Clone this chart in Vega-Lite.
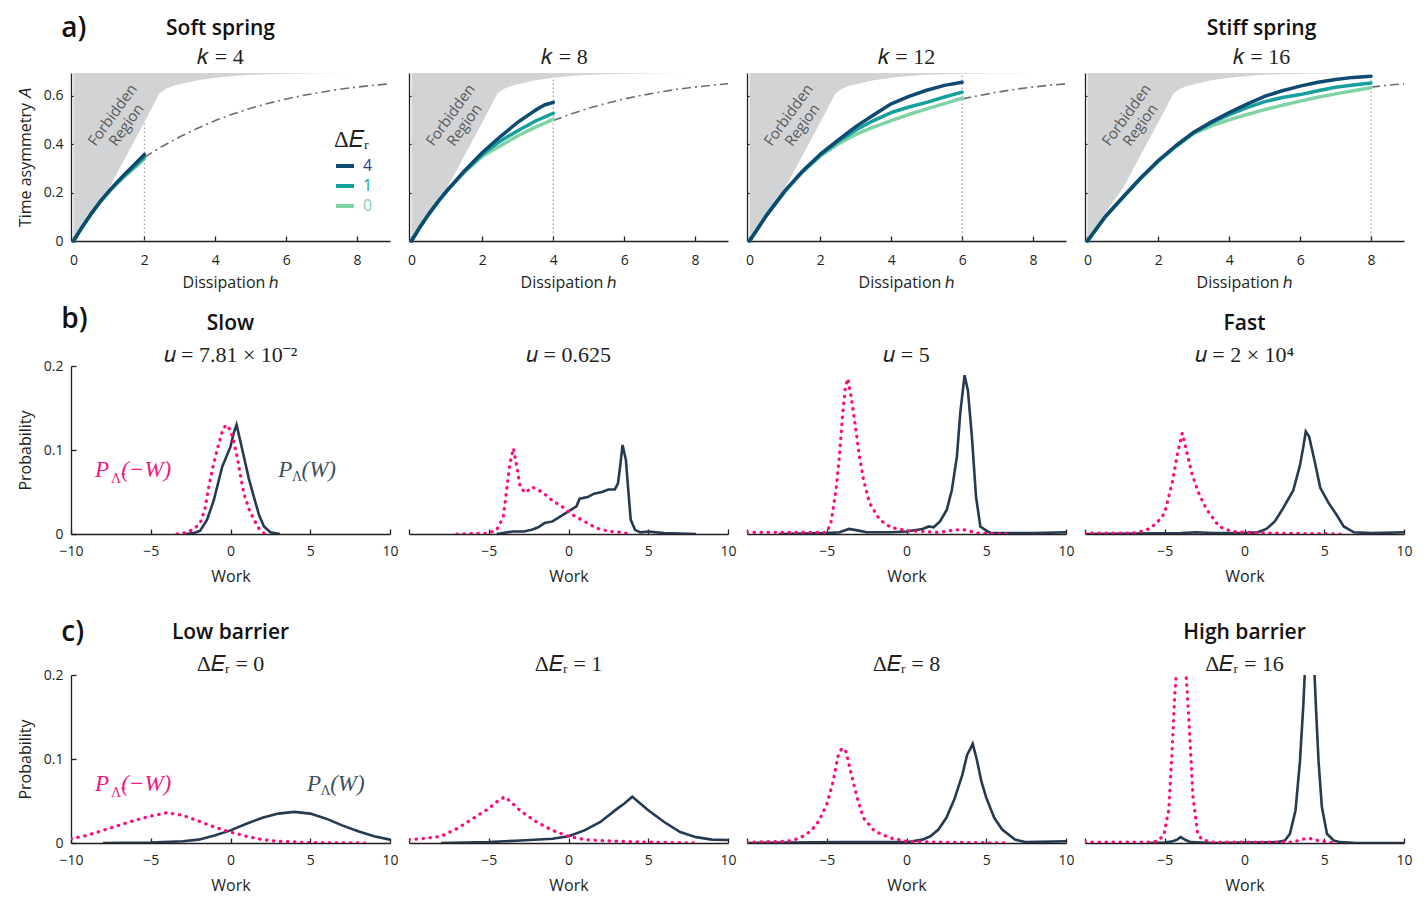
{
"$schema": "https://vega.github.io/schema/vega-lite/v6.json",
"background": "white",
"padding": {"left": 17, "top": 14, "right": 5, "bottom": 5},
"config": {
  "view": {"stroke": null},
  "font": "Open Sans",
  "axis": {"grid": false, "domainColor": "#231f20", "domainWidth": 1.3, "tickColor": "#231f20", "tickWidth": 1.3, "tickSize": -5,
           "labelFont": "Open Sans", "labelFontSize": 14, "labelColor": "#231f20", "labelFlush": false, "labelOverlap": false,
           "titleFont": "Open Sans", "titleFontSize": 16, "titleFontWeight": "normal", "titleColor": "#231f20", "zindex": 1},
  "axisX": {"labelPadding": 15, "titlePadding": 10},
  "axisY": {"labelPadding": 13, "titlePadding": 10, "format": "~g"},
  "title": {"font": "Open Sans", "fontSize": 21, "fontWeight": 600, "color": "#111111", "subtitleFont": "Liberation Serif", "subtitleFontSize": 22, "subtitleColor": "#231f20", "frame": "group", "anchor": "middle"}
},
"datasets": {
  "bound": [{"h":0,"A":0},{"h":0.5,"A":0.116},{"h":1,"A":0.218},{"h":1.5,"A":0.354},{"h":2,"A":0.49},{"h":2.42,"A":0.607},{"h":2.6,"A":0.627},{"h":2.8,"A":0.639},{"h":3,"A":0.647},{"h":3.5,"A":0.663},{"h":4,"A":0.674},{"h":4.5,"A":0.681},{"h":5,"A":0.686},{"h":6,"A":0.69},{"h":7,"A":0.692},{"h":8,"A":0.6928},{"h":9.05,"A":0.6931}],
  "theory": [{"h":2,"A":0.345},{"h":2.5,"A":0.39},{"h":3,"A":0.43},{"h":3.5,"A":0.465},{"h":4,"A":0.497},{"h":4.5,"A":0.524},{"h":5,"A":0.548},{"h":5.5,"A":0.568},{"h":6,"A":0.586},{"h":6.5,"A":0.601},{"h":7,"A":0.614},{"h":7.5,"A":0.626},{"h":8,"A":0.635},{"h":8.5,"A":0.643},{"h":9.05,"A":0.65}],
  "asym": [
    {"k":4,"dE":"0","h":0,"A":0},{"k":4,"dE":"0","h":0.25,"A":0.058},{"k":4,"dE":"0","h":0.5,"A":0.112},{"k":4,"dE":"0","h":0.75,"A":0.16},{"k":4,"dE":"0","h":1,"A":0.203},{"k":4,"dE":"0","h":1.25,"A":0.24},{"k":4,"dE":"0","h":1.5,"A":0.274},{"k":4,"dE":"0","h":1.75,"A":0.306},{"k":4,"dE":"0","h":2,"A":0.338},
    {"k":4,"dE":"1","h":0,"A":0},{"k":4,"dE":"1","h":0.25,"A":0.058},{"k":4,"dE":"1","h":0.5,"A":0.112},{"k":4,"dE":"1","h":0.75,"A":0.161},{"k":4,"dE":"1","h":1,"A":0.204},{"k":4,"dE":"1","h":1.25,"A":0.242},{"k":4,"dE":"1","h":1.5,"A":0.278},{"k":4,"dE":"1","h":1.75,"A":0.312},{"k":4,"dE":"1","h":2,"A":0.347},
    {"k":4,"dE":"4","h":0,"A":0},{"k":4,"dE":"4","h":0.25,"A":0.059},{"k":4,"dE":"4","h":0.5,"A":0.113},{"k":4,"dE":"4","h":0.75,"A":0.162},{"k":4,"dE":"4","h":1,"A":0.206},{"k":4,"dE":"4","h":1.25,"A":0.246},{"k":4,"dE":"4","h":1.5,"A":0.284},{"k":4,"dE":"4","h":1.75,"A":0.32},{"k":4,"dE":"4","h":2,"A":0.357},
    {"k":8,"dE":"0","h":0,"A":0},{"k":8,"dE":"0","h":0.25,"A":0.06},{"k":8,"dE":"0","h":0.5,"A":0.113},{"k":8,"dE":"0","h":0.75,"A":0.162},{"k":8,"dE":"0","h":1,"A":0.206},{"k":8,"dE":"0","h":1.5,"A":0.284},{"k":8,"dE":"0","h":2,"A":0.35},{"k":8,"dE":"0","h":2.5,"A":0.392},{"k":8,"dE":"0","h":3,"A":0.434},{"k":8,"dE":"0","h":3.5,"A":0.47},{"k":8,"dE":"0","h":4,"A":0.502},
    {"k":8,"dE":"1","h":0,"A":0},{"k":8,"dE":"1","h":0.25,"A":0.06},{"k":8,"dE":"1","h":0.5,"A":0.113},{"k":8,"dE":"1","h":0.75,"A":0.162},{"k":8,"dE":"1","h":1,"A":0.207},{"k":8,"dE":"1","h":1.5,"A":0.288},{"k":8,"dE":"1","h":2,"A":0.357},{"k":8,"dE":"1","h":2.5,"A":0.412},{"k":8,"dE":"1","h":3,"A":0.455},{"k":8,"dE":"1","h":3.5,"A":0.495},{"k":8,"dE":"1","h":4,"A":0.527},
    {"k":8,"dE":"4","h":0,"A":0},{"k":8,"dE":"4","h":0.25,"A":0.06},{"k":8,"dE":"4","h":0.5,"A":0.114},{"k":8,"dE":"4","h":0.75,"A":0.163},{"k":8,"dE":"4","h":1,"A":0.208},{"k":8,"dE":"4","h":1.5,"A":0.29},{"k":8,"dE":"4","h":2,"A":0.365},{"k":8,"dE":"4","h":2.5,"A":0.43},{"k":8,"dE":"4","h":3,"A":0.49},{"k":8,"dE":"4","h":3.5,"A":0.54},{"k":8,"dE":"4","h":3.75,"A":0.561},{"k":8,"dE":"4","h":4,"A":0.572},
    {"k":12,"dE":"0","h":0,"A":0},{"k":12,"dE":"0","h":0.5,"A":0.11},{"k":12,"dE":"0","h":1,"A":0.205},{"k":12,"dE":"0","h":1.5,"A":0.284},{"k":12,"dE":"0","h":2,"A":0.35},{"k":12,"dE":"0","h":2.5,"A":0.4},{"k":12,"dE":"0","h":3,"A":0.44},{"k":12,"dE":"0","h":3.5,"A":0.47},{"k":12,"dE":"0","h":4,"A":0.497},{"k":12,"dE":"0","h":4.5,"A":0.522},{"k":12,"dE":"0","h":5,"A":0.545},{"k":12,"dE":"0","h":5.5,"A":0.567},{"k":12,"dE":"0","h":6,"A":0.589},
    {"k":12,"dE":"1","h":0,"A":0},{"k":12,"dE":"1","h":0.5,"A":0.11},{"k":12,"dE":"1","h":1,"A":0.206},{"k":12,"dE":"1","h":1.5,"A":0.287},{"k":12,"dE":"1","h":2,"A":0.355},{"k":12,"dE":"1","h":2.5,"A":0.41},{"k":12,"dE":"1","h":3,"A":0.458},{"k":12,"dE":"1","h":3.5,"A":0.497},{"k":12,"dE":"1","h":4,"A":0.53},{"k":12,"dE":"1","h":4.5,"A":0.553},{"k":12,"dE":"1","h":5,"A":0.572},{"k":12,"dE":"1","h":5.5,"A":0.594},{"k":12,"dE":"1","h":6,"A":0.614},
    {"k":12,"dE":"4","h":0,"A":0},{"k":12,"dE":"4","h":0.5,"A":0.11},{"k":12,"dE":"4","h":1,"A":0.207},{"k":12,"dE":"4","h":1.5,"A":0.289},{"k":12,"dE":"4","h":2,"A":0.358},{"k":12,"dE":"4","h":2.5,"A":0.416},{"k":12,"dE":"4","h":3,"A":0.472},{"k":12,"dE":"4","h":3.5,"A":0.52},{"k":12,"dE":"4","h":4,"A":0.566},{"k":12,"dE":"4","h":4.5,"A":0.597},{"k":12,"dE":"4","h":5,"A":0.622},{"k":12,"dE":"4","h":5.5,"A":0.642},{"k":12,"dE":"4","h":6,"A":0.655},
    {"k":16,"dE":"0","h":0,"A":0},{"k":16,"dE":"0","h":0.5,"A":0.1},{"k":16,"dE":"0","h":1,"A":0.18},{"k":16,"dE":"0","h":1.5,"A":0.258},{"k":16,"dE":"0","h":2,"A":0.328},{"k":16,"dE":"0","h":2.5,"A":0.39},{"k":16,"dE":"0","h":3,"A":0.443},{"k":16,"dE":"0","h":3.5,"A":0.475},{"k":16,"dE":"0","h":4,"A":0.5},{"k":16,"dE":"0","h":4.5,"A":0.522},{"k":16,"dE":"0","h":5,"A":0.542},{"k":16,"dE":"0","h":5.5,"A":0.56},{"k":16,"dE":"0","h":6,"A":0.577},{"k":16,"dE":"0","h":6.5,"A":0.593},{"k":16,"dE":"0","h":7,"A":0.607},{"k":16,"dE":"0","h":7.5,"A":0.62},{"k":16,"dE":"0","h":8,"A":0.632},
    {"k":16,"dE":"1","h":0,"A":0},{"k":16,"dE":"1","h":0.5,"A":0.1},{"k":16,"dE":"1","h":1,"A":0.18},{"k":16,"dE":"1","h":1.5,"A":0.259},{"k":16,"dE":"1","h":2,"A":0.33},{"k":16,"dE":"1","h":2.5,"A":0.392},{"k":16,"dE":"1","h":3,"A":0.447},{"k":16,"dE":"1","h":3.5,"A":0.487},{"k":16,"dE":"1","h":4,"A":0.521},{"k":16,"dE":"1","h":4.5,"A":0.55},{"k":16,"dE":"1","h":5,"A":0.575},{"k":16,"dE":"1","h":5.5,"A":0.592},{"k":16,"dE":"1","h":6,"A":0.604},{"k":16,"dE":"1","h":6.5,"A":0.62},{"k":16,"dE":"1","h":7,"A":0.634},{"k":16,"dE":"1","h":7.5,"A":0.644},{"k":16,"dE":"1","h":8,"A":0.652},
    {"k":16,"dE":"4","h":0,"A":0},{"k":16,"dE":"4","h":0.5,"A":0.1},{"k":16,"dE":"4","h":1,"A":0.181},{"k":16,"dE":"4","h":1.5,"A":0.26},{"k":16,"dE":"4","h":2,"A":0.332},{"k":16,"dE":"4","h":2.5,"A":0.394},{"k":16,"dE":"4","h":3,"A":0.449},{"k":16,"dE":"4","h":3.5,"A":0.492},{"k":16,"dE":"4","h":4,"A":0.53},{"k":16,"dE":"4","h":4.5,"A":0.565},{"k":16,"dE":"4","h":5,"A":0.597},{"k":16,"dE":"4","h":5.5,"A":0.62},{"k":16,"dE":"4","h":6,"A":0.639},{"k":16,"dE":"4","h":6.5,"A":0.655},{"k":16,"dE":"4","h":7,"A":0.666},{"k":16,"dE":"4","h":7.5,"A":0.675},{"k":16,"dE":"4","h":8,"A":0.68}
  ],
  "work": [
    {"p":"b1","s":"F","W":-2.8,"P":0},{"p":"b1","s":"F","W":-2.3,"P":0.001},{"p":"b1","s":"F","W":-1.9,"P":0.004},{"p":"b1","s":"F","W":-1.47,"P":0.017},{"p":"b1","s":"F","W":-1.05,"P":0.04},{"p":"b1","s":"F","W":-0.52,"P":0.08},{"p":"b1","s":"F","W":0,"P":0.104},{"p":"b1","s":"F","W":0.2,"P":0.12},{"p":"b1","s":"F","W":0.38,"P":0.13},{"p":"b1","s":"F","W":0.6,"P":0.112},{"p":"b1","s":"F","W":0.84,"P":0.092},{"p":"b1","s":"F","W":1.15,"P":0.066},{"p":"b1","s":"F","W":1.47,"P":0.044},{"p":"b1","s":"F","W":1.8,"P":0.022},{"p":"b1","s":"F","W":2.1,"P":0.009},{"p":"b1","s":"F","W":2.5,"P":0.002},{"p":"b1","s":"F","W":3.1,"P":0},
    {"p":"b1","s":"R","W":-3.35,"P":0},{"p":"b1","s":"R","W":-2.7,"P":0.002},{"p":"b1","s":"R","W":-2.3,"P":0.006},{"p":"b1","s":"R","W":-1.9,"P":0.013},{"p":"b1","s":"R","W":-1.6,"P":0.03},{"p":"b1","s":"R","W":-1.36,"P":0.056},{"p":"b1","s":"R","W":-1.1,"P":0.08},{"p":"b1","s":"R","W":-0.84,"P":0.1},{"p":"b1","s":"R","W":-0.55,"P":0.12},{"p":"b1","s":"R","W":-0.3,"P":0.13},{"p":"b1","s":"R","W":0,"P":0.124},{"p":"b1","s":"R","W":0.2,"P":0.11},{"p":"b1","s":"R","W":0.42,"P":0.092},{"p":"b1","s":"R","W":0.62,"P":0.07},{"p":"b1","s":"R","W":0.84,"P":0.048},{"p":"b1","s":"R","W":1.15,"P":0.03},{"p":"b1","s":"R","W":1.47,"P":0.017},{"p":"b1","s":"R","W":1.8,"P":0.006},{"p":"b1","s":"R","W":2.1,"P":0.001},{"p":"b1","s":"R","W":2.3,"P":0},
    {"p":"b2","s":"F","W":-4.5,"P":0},{"p":"b2","s":"F","W":-3.5,"P":0.003},{"p":"b2","s":"F","W":-2.8,"P":0.003},{"p":"b2","s":"F","W":-2.3,"P":0.005},{"p":"b2","s":"F","W":-1.9,"P":0.008},{"p":"b2","s":"F","W":-1.5,"P":0.013},{"p":"b2","s":"F","W":-1,"P":0.015},{"p":"b2","s":"F","W":-0.5,"P":0.021},{"p":"b2","s":"F","W":0,"P":0.027},{"p":"b2","s":"F","W":0.5,"P":0.033},{"p":"b2","s":"F","W":0.7,"P":0.042},{"p":"b2","s":"F","W":1.2,"P":0.044},{"p":"b2","s":"F","W":1.6,"P":0.048},{"p":"b2","s":"F","W":2.1,"P":0.05},{"p":"b2","s":"F","W":2.5,"P":0.053},{"p":"b2","s":"F","W":2.9,"P":0.053},{"p":"b2","s":"F","W":3.1,"P":0.06},{"p":"b2","s":"F","W":3.26,"P":0.084},{"p":"b2","s":"F","W":3.39,"P":0.106},{"p":"b2","s":"F","W":3.6,"P":0.088},{"p":"b2","s":"F","W":3.75,"P":0.052},{"p":"b2","s":"F","W":3.9,"P":0.017},{"p":"b2","s":"F","W":4.17,"P":0.005},{"p":"b2","s":"F","W":4.5,"P":0.002},{"p":"b2","s":"F","W":5,"P":0.003},{"p":"b2","s":"F","W":6,"P":0.001},{"p":"b2","s":"F","W":8,"P":0},
    {"p":"b2","s":"R","W":-7,"P":0},{"p":"b2","s":"R","W":-5,"P":0.001},{"p":"b2","s":"R","W":-4.5,"P":0.005},{"p":"b2","s":"R","W":-4.09,"P":0.02},{"p":"b2","s":"R","W":-3.88,"P":0.052},{"p":"b2","s":"R","W":-3.67,"P":0.084},{"p":"b2","s":"R","W":-3.45,"P":0.102},{"p":"b2","s":"R","W":-3.24,"P":0.08},{"p":"b2","s":"R","W":-3.03,"P":0.056},{"p":"b2","s":"R","W":-2.71,"P":0.049},{"p":"b2","s":"R","W":-2.29,"P":0.056},{"p":"b2","s":"R","W":-1.65,"P":0.05},{"p":"b2","s":"R","W":-1.02,"P":0.04},{"p":"b2","s":"R","W":-0.28,"P":0.031},{"p":"b2","s":"R","W":0.25,"P":0.023},{"p":"b2","s":"R","W":1,"P":0.015},{"p":"b2","s":"R","W":1.74,"P":0.007},{"p":"b2","s":"R","W":2.58,"P":0.003},{"p":"b2","s":"R","W":3.33,"P":0.002},{"p":"b2","s":"R","W":3.86,"P":0},
    {"p":"b3","s":"F","W":-8,"P":0},{"p":"b3","s":"F","W":-5,"P":0.001},{"p":"b3","s":"F","W":-4.2,"P":0.002},{"p":"b3","s":"F","W":-3.6,"P":0.006},{"p":"b3","s":"F","W":-3,"P":0.004},{"p":"b3","s":"F","W":-2.5,"P":0.002},{"p":"b3","s":"F","W":-1,"P":0.002},{"p":"b3","s":"F","W":0,"P":0.003},{"p":"b3","s":"F","W":1,"P":0.006},{"p":"b3","s":"F","W":1.4,"P":0.009},{"p":"b3","s":"F","W":1.7,"P":0.008},{"p":"b3","s":"F","W":2.1,"P":0.015},{"p":"b3","s":"F","W":2.53,"P":0.029},{"p":"b3","s":"F","W":2.84,"P":0.052},{"p":"b3","s":"F","W":3.16,"P":0.092},{"p":"b3","s":"F","W":3.37,"P":0.144},{"p":"b3","s":"F","W":3.64,"P":0.189},{"p":"b3","s":"F","W":3.85,"P":0.171},{"p":"b3","s":"F","W":4.1,"P":0.116},{"p":"b3","s":"F","W":4.36,"P":0.044},{"p":"b3","s":"F","W":4.63,"P":0.009},{"p":"b3","s":"F","W":5,"P":0.004},{"p":"b3","s":"F","W":5.3,"P":0.001},{"p":"b3","s":"F","W":8,"P":0.001},{"p":"b3","s":"F","W":10,"P":0.002},
    {"p":"b3","s":"R","W":-10,"P":0.002},{"p":"b3","s":"R","W":-5,"P":0.002},{"p":"b3","s":"R","W":-4.74,"P":0.013},{"p":"b3","s":"R","W":-4.42,"P":0.052},{"p":"b3","s":"R","W":-4.21,"P":0.092},{"p":"b3","s":"R","W":-4,"P":0.143},{"p":"b3","s":"R","W":-3.83,"P":0.175},{"p":"b3","s":"R","W":-3.68,"P":0.185},{"p":"b3","s":"R","W":-3.47,"P":0.163},{"p":"b3","s":"R","W":-3.26,"P":0.136},{"p":"b3","s":"R","W":-2.95,"P":0.092},{"p":"b3","s":"R","W":-2.69,"P":0.064},{"p":"b3","s":"R","W":-2.32,"P":0.037},{"p":"b3","s":"R","W":-1.68,"P":0.017},{"p":"b3","s":"R","W":-1,"P":0.008},{"p":"b3","s":"R","W":0,"P":0.004},{"p":"b3","s":"R","W":1,"P":0.003},{"p":"b3","s":"R","W":2,"P":0.002},{"p":"b3","s":"R","W":3.1,"P":0.005},{"p":"b3","s":"R","W":3.6,"P":0.005},{"p":"b3","s":"R","W":4.5,"P":0.001},{"p":"b3","s":"R","W":6.3,"P":0},
    {"p":"b4","s":"F","W":-10,"P":0},{"p":"b4","s":"F","W":-4,"P":0.001},{"p":"b4","s":"F","W":-3,"P":0.002},{"p":"b4","s":"F","W":-2,"P":0.001},{"p":"b4","s":"F","W":0,"P":0.001},{"p":"b4","s":"F","W":0.84,"P":0.002},{"p":"b4","s":"F","W":1.37,"P":0.006},{"p":"b4","s":"F","W":1.9,"P":0.015},{"p":"b4","s":"F","W":2.43,"P":0.031},{"p":"b4","s":"F","W":3.06,"P":0.052},{"p":"b4","s":"F","W":3.48,"P":0.082},{"p":"b4","s":"F","W":3.69,"P":0.104},{"p":"b4","s":"F","W":3.84,"P":0.122},{"p":"b4","s":"F","W":4.05,"P":0.116},{"p":"b4","s":"F","W":4.43,"P":0.084},{"p":"b4","s":"F","W":4.75,"P":0.055},{"p":"b4","s":"F","W":5.27,"P":0.037},{"p":"b4","s":"F","W":5.8,"P":0.022},{"p":"b4","s":"F","W":6.22,"P":0.009},{"p":"b4","s":"F","W":6.86,"P":0.002},{"p":"b4","s":"F","W":8,"P":0.001},{"p":"b4","s":"F","W":10,"P":0.002},
    {"p":"b4","s":"R","W":-10,"P":0.001},{"p":"b4","s":"R","W":-7,"P":0.001},{"p":"b4","s":"R","W":-6.5,"P":0.003},{"p":"b4","s":"R","W":-6,"P":0.006},{"p":"b4","s":"R","W":-5.5,"P":0.013},{"p":"b4","s":"R","W":-5,"P":0.025},{"p":"b4","s":"R","W":-4.5,"P":0.064},{"p":"b4","s":"R","W":-4.2,"P":0.096},{"p":"b4","s":"R","W":-3.9,"P":0.12},{"p":"b4","s":"R","W":-3.6,"P":0.096},{"p":"b4","s":"R","W":-3.3,"P":0.072},{"p":"b4","s":"R","W":-2.9,"P":0.05},{"p":"b4","s":"R","W":-2.4,"P":0.03},{"p":"b4","s":"R","W":-1.6,"P":0.009},{"p":"b4","s":"R","W":-0.8,"P":0.003},{"p":"b4","s":"R","W":0,"P":0.002},{"p":"b4","s":"R","W":2,"P":0.001},{"p":"b4","s":"R","W":6,"P":0},
    {"p":"c1","s":"F","W":-8,"P":0},{"p":"c1","s":"F","W":-5,"P":0.0005},{"p":"c1","s":"F","W":-3,"P":0.002},{"p":"c1","s":"F","W":-2,"P":0.004},{"p":"c1","s":"F","W":-1,"P":0.009},{"p":"c1","s":"F","W":0,"P":0.015},{"p":"c1","s":"F","W":1,"P":0.023},{"p":"c1","s":"F","W":2,"P":0.03},{"p":"c1","s":"F","W":3,"P":0.035},{"p":"c1","s":"F","W":4,"P":0.037},{"p":"c1","s":"F","W":5,"P":0.035},{"p":"c1","s":"F","W":6,"P":0.029},{"p":"c1","s":"F","W":7,"P":0.021},{"p":"c1","s":"F","W":8,"P":0.014},{"p":"c1","s":"F","W":9,"P":0.008},{"p":"c1","s":"F","W":10,"P":0.004},
    {"p":"c1","s":"R","W":-10,"P":0.005},{"p":"c1","s":"R","W":-9,"P":0.009},{"p":"c1","s":"R","W":-8,"P":0.015},{"p":"c1","s":"R","W":-7,"P":0.021},{"p":"c1","s":"R","W":-6,"P":0.027},{"p":"c1","s":"R","W":-5,"P":0.032},{"p":"c1","s":"R","W":-4,"P":0.036},{"p":"c1","s":"R","W":-3,"P":0.033},{"p":"c1","s":"R","W":-2,"P":0.026},{"p":"c1","s":"R","W":-1,"P":0.019},{"p":"c1","s":"R","W":0,"P":0.013},{"p":"c1","s":"R","W":1,"P":0.008},{"p":"c1","s":"R","W":2,"P":0.004},{"p":"c1","s":"R","W":3,"P":0.002},{"p":"c1","s":"R","W":5,"P":0.0005},{"p":"c1","s":"R","W":8.5,"P":0},
    {"p":"c2","s":"F","W":-8,"P":0},{"p":"c2","s":"F","W":-5,"P":0.001},{"p":"c2","s":"F","W":-3,"P":0.003},{"p":"c2","s":"F","W":-1,"P":0.005},{"p":"c2","s":"F","W":0,"P":0.008},{"p":"c2","s":"F","W":1,"P":0.015},{"p":"c2","s":"F","W":2,"P":0.025},{"p":"c2","s":"F","W":3,"P":0.04},{"p":"c2","s":"F","W":3.5,"P":0.047},{"p":"c2","s":"F","W":4,"P":0.055},{"p":"c2","s":"F","W":4.5,"P":0.047},{"p":"c2","s":"F","W":5,"P":0.039},{"p":"c2","s":"F","W":6,"P":0.025},{"p":"c2","s":"F","W":7,"P":0.013},{"p":"c2","s":"F","W":8,"P":0.007},{"p":"c2","s":"F","W":9,"P":0.004},{"p":"c2","s":"F","W":10,"P":0.0035},
    {"p":"c2","s":"R","W":-10,"P":0.004},{"p":"c2","s":"R","W":-9,"P":0.0055},{"p":"c2","s":"R","W":-8,"P":0.008},{"p":"c2","s":"R","W":-7,"P":0.017},{"p":"c2","s":"R","W":-6,"P":0.029},{"p":"c2","s":"R","W":-5,"P":0.041},{"p":"c2","s":"R","W":-4.5,"P":0.049},{"p":"c2","s":"R","W":-4,"P":0.055},{"p":"c2","s":"R","W":-3.5,"P":0.047},{"p":"c2","s":"R","W":-3,"P":0.038},{"p":"c2","s":"R","W":-2,"P":0.025},{"p":"c2","s":"R","W":-1,"P":0.015},{"p":"c2","s":"R","W":0,"P":0.008},{"p":"c2","s":"R","W":1,"P":0.004},{"p":"c2","s":"R","W":2,"P":0.003},{"p":"c2","s":"R","W":4,"P":0.0015},{"p":"c2","s":"R","W":8,"P":0},
    {"p":"c3","s":"F","W":-10,"P":0},{"p":"c3","s":"F","W":-4,"P":0.001},{"p":"c3","s":"F","W":-2,"P":0.001},{"p":"c3","s":"F","W":0,"P":0.001},{"p":"c3","s":"F","W":1,"P":0.004},{"p":"c3","s":"F","W":1.5,"P":0.008},{"p":"c3","s":"F","W":2,"P":0.016},{"p":"c3","s":"F","W":2.5,"P":0.03},{"p":"c3","s":"F","W":3,"P":0.052},{"p":"c3","s":"F","W":3.5,"P":0.081},{"p":"c3","s":"F","W":3.8,"P":0.105},{"p":"c3","s":"F","W":4,"P":0.112},{"p":"c3","s":"F","W":4.15,"P":0.118},{"p":"c3","s":"F","W":4.4,"P":0.1},{"p":"c3","s":"F","W":4.7,"P":0.073},{"p":"c3","s":"F","W":5,"P":0.054},{"p":"c3","s":"F","W":5.5,"P":0.03},{"p":"c3","s":"F","W":6,"P":0.016},{"p":"c3","s":"F","W":6.8,"P":0.004},{"p":"c3","s":"F","W":7.5,"P":0.001},{"p":"c3","s":"F","W":10,"P":0.002},
    {"p":"c3","s":"R","W":-10,"P":0.001},{"p":"c3","s":"R","W":-7.5,"P":0.002},{"p":"c3","s":"R","W":-7,"P":0.004},{"p":"c3","s":"R","W":-6.5,"P":0.008},{"p":"c3","s":"R","W":-6,"P":0.014},{"p":"c3","s":"R","W":-5.5,"P":0.026},{"p":"c3","s":"R","W":-5,"P":0.046},{"p":"c3","s":"R","W":-4.6,"P":0.073},{"p":"c3","s":"R","W":-4.3,"P":0.103},{"p":"c3","s":"R","W":-4.05,"P":0.113},{"p":"c3","s":"R","W":-3.8,"P":0.109},{"p":"c3","s":"R","W":-3.5,"P":0.085},{"p":"c3","s":"R","W":-3.1,"P":0.054},{"p":"c3","s":"R","W":-2.7,"P":0.03},{"p":"c3","s":"R","W":-2,"P":0.014},{"p":"c3","s":"R","W":-1,"P":0.006},{"p":"c3","s":"R","W":0,"P":0.002},{"p":"c3","s":"R","W":2,"P":0.001},{"p":"c3","s":"R","W":6.5,"P":0},
    {"p":"c4","s":"F","W":-6,"P":0},{"p":"c4","s":"F","W":-5,"P":0.0005},{"p":"c4","s":"F","W":-4.5,"P":0.002},{"p":"c4","s":"F","W":-4.22,"P":0.004},{"p":"c4","s":"F","W":-4,"P":0.007},{"p":"c4","s":"F","W":-3.69,"P":0.0035},{"p":"c4","s":"F","W":-3.38,"P":0.001},{"p":"c4","s":"F","W":-2,"P":0},{"p":"c4","s":"F","W":0,"P":0.0005},{"p":"c4","s":"F","W":2,"P":0.001},{"p":"c4","s":"F","W":2.53,"P":0.003},{"p":"c4","s":"F","W":2.85,"P":0.011},{"p":"c4","s":"F","W":3.2,"P":0.039},{"p":"c4","s":"F","W":3.48,"P":0.098},{"p":"c4","s":"F","W":3.69,"P":0.165},{"p":"c4","s":"F","W":3.8,"P":0.21},{"p":"c4","s":"F","W":4.08,"P":0.6},{"p":"c4","s":"F","W":4.37,"P":0.21},{"p":"c4","s":"F","W":4.49,"P":0.157},{"p":"c4","s":"F","W":4.64,"P":0.098},{"p":"c4","s":"F","W":4.85,"P":0.043},{"p":"c4","s":"F","W":5.17,"P":0.011},{"p":"c4","s":"F","W":5.59,"P":0.003},{"p":"c4","s":"F","W":6.01,"P":0.001},{"p":"c4","s":"F","W":7,"P":0},{"p":"c4","s":"F","W":10,"P":0},
    {"p":"c4","s":"R","W":-10,"P":0.001},{"p":"c4","s":"R","W":-6,"P":0.001},{"p":"c4","s":"R","W":-5.5,"P":0.002},{"p":"c4","s":"R","W":-5.06,"P":0.009},{"p":"c4","s":"R","W":-4.75,"P":0.039},{"p":"c4","s":"R","W":-4.54,"P":0.11},{"p":"c4","s":"R","W":-4.37,"P":0.177},{"p":"c4","s":"R","W":-4.24,"P":0.21},{"p":"c4","s":"R","W":-3.96,"P":0.6},{"p":"c4","s":"R","W":-3.69,"P":0.21},{"p":"c4","s":"R","W":-3.52,"P":0.157},{"p":"c4","s":"R","W":-3.38,"P":0.11},{"p":"c4","s":"R","W":-3.23,"P":0.055},{"p":"c4","s":"R","W":-2.95,"P":0.013},{"p":"c4","s":"R","W":-2.68,"P":0.004},{"p":"c4","s":"R","W":-2,"P":0.001},{"p":"c4","s":"R","W":0,"P":0.001},{"p":"c4","s":"R","W":3,"P":0.001},{"p":"c4","s":"R","W":3.48,"P":0.0035},{"p":"c4","s":"R","W":4,"P":0.006},{"p":"c4","s":"R","W":4.43,"P":0.0035},{"p":"c4","s":"R","W":5.27,"P":0.001},{"p":"c4","s":"R","W":5.6,"P":0}
  ]
},
"spacing": 15,
"vconcat": [
  {
    "title": {"text": "a)", "anchor": "start", "frame": "bounds", "fontSize": 28, "fontWeight": 600, "dx": 44, "dy": 25, "offset": 0},
    "bounds": "flush", "spacing": 19,
    "resolve": {"scale": {"color": "independent"}, "legend": {"color": "independent"}},
    "hconcat": [
      {"width": 319, "height": 168,
       "title": {"text": "Soft spring", "subtitle": "𝑘 = 4", "offset": 5, "subtitlePadding": 8.5, "dx": -10},
       "layer": [
         {"data": {"name": "bound"}, "mark": {"type": "area", "color": "#d1d3d4", "clip": true},
          "encoding": {"x": {"field": "h", "type": "quantitative", "scale": {"domain": [-0.07, 8.93], "nice": false}, "axis": {"title": "Dissipation ℎ", "values": [0, 2, 4, 6, 8], "labelPadding": 17, "titlePadding": 7}},
                       "y": {"field": "A", "type": "quantitative", "scale": {"domain": [0, 0.6931], "nice": false}, "axis": {"title": "Time asymmetry 𝐴", "values": [0, 0.2, 0.4, 0.6]}},
                       "y2": {"datum": 0.6931}}},
         {"data": {"values": [{}]}, "mark": {"type": "text", "text": ["Forbidden", "Region"], "angle": 306, "fontSize": 15, "color": "#58595b", "lineHeight": 17, "align": "center", "baseline": "middle"},
          "encoding": {"x": {"datum": 1.1}, "y": {"datum": 0.52}}},
         {"data": {"values": [{}]}, "mark": {"type": "rule", "color": "#8a8c8e", "strokeDash": [1.5, 2.5], "strokeWidth": 1},
          "encoding": {"x": {"datum": 2}, "y": {"datum": 0}, "y2": {"datum": 0.49}}},
         {"data": {"name": "theory"}, "transform": [{"filter": "datum.h >= 2"}], "mark": {"type": "line", "color": "#6d6e71", "strokeWidth": 1.6, "strokeDash": [9, 4, 2, 4], "clip": true},
          "encoding": {"x": {"field": "h", "type": "quantitative"}, "y": {"field": "A", "type": "quantitative"}}},
         {"data": {"name": "asym"}, "transform": [{"filter": "datum.k == 4"}], "mark": {"type": "line", "strokeWidth": 3.5, "strokeCap": "round", "strokeJoin": "round"},
          "encoding": {"x": {"field": "h", "type": "quantitative"}, "y": {"field": "A", "type": "quantitative"},
                       "color": {"field": "dE", "type": "nominal", "scale": {"domain": ["4", "1", "0"], "range": ["#0f4a70", "#16a09c", "#80d3a4"]},
                                 "legend": {"orient": "none", "legendX": 263, "legendY": 56, "title": "Δ𝐸ᵣ", "titleFont": "Liberation Serif", "titleFontSize": 23, "titleFontWeight": "normal", "titleColor": "#231f20", "titlePadding": 3,
                                            "labelFont": "Open Sans", "labelFontSize": 16, "labelOffset": 7, "symbolType": "stroke", "symbolStrokeWidth": 4, "symbolSize": 324, "rowPadding": 1,
                                            "encode": {"labels": {"update": {"fill": {"signal": "datum.value === '4' ? '#2b3a8f' : datum.value === '1' ? '#16a09c' : '#80d3a4'"}}}}}}}}
       ]},
      {"width": 319, "height": 168,
       "title": {"text": " ", "subtitle": "𝑘 = 8", "offset": 5, "subtitlePadding": 8.5, "dx": -4},
       "layer": [
         {"data": {"name": "bound"}, "mark": {"type": "area", "color": "#d1d3d4", "clip": true},
          "encoding": {"x": {"field": "h", "type": "quantitative", "scale": {"domain": [-0.07, 8.93], "nice": false}, "axis": {"title": "Dissipation ℎ", "values": [0, 2, 4, 6, 8], "labelPadding": 17, "titlePadding": 7}},
                       "y": {"field": "A", "type": "quantitative", "scale": {"domain": [0, 0.6931], "nice": false}, "axis": {"title": null, "labels": false, "values": [0, 0.2, 0.4, 0.6]}},
                       "y2": {"datum": 0.6931}}},
         {"data": {"values": [{}]}, "mark": {"type": "text", "text": ["Forbidden", "Region"], "angle": 306, "fontSize": 15, "color": "#58595b", "lineHeight": 17, "align": "center", "baseline": "middle"},
          "encoding": {"x": {"datum": 1.1}, "y": {"datum": 0.52}}},
         {"data": {"values": [{}]}, "mark": {"type": "rule", "color": "#8a8c8e", "strokeDash": [1.5, 2.5], "strokeWidth": 1},
          "encoding": {"x": {"datum": 4}, "y": {"datum": 0}, "y2": {"datum": 0.674}}},
         {"data": {"name": "theory"}, "transform": [{"filter": "datum.h >= 4"}], "mark": {"type": "line", "color": "#6d6e71", "strokeWidth": 1.6, "strokeDash": [9, 4, 2, 4], "clip": true},
          "encoding": {"x": {"field": "h", "type": "quantitative"}, "y": {"field": "A", "type": "quantitative"}}},
         {"data": {"name": "asym"}, "transform": [{"filter": "datum.k == 8"}], "mark": {"type": "line", "strokeWidth": 3.5, "strokeCap": "round", "strokeJoin": "round"},
          "encoding": {"x": {"field": "h", "type": "quantitative"}, "y": {"field": "A", "type": "quantitative"},
                       "color": {"field": "dE", "type": "nominal", "scale": {"domain": ["4", "1", "0"], "range": ["#0f4a70", "#16a09c", "#80d3a4"]}, "legend": null}}}
       ]},
      {"width": 319, "height": 168,
       "title": {"text": " ", "subtitle": "𝑘 = 12", "offset": 5, "subtitlePadding": 8.5},
       "layer": [
         {"data": {"name": "bound"}, "mark": {"type": "area", "color": "#d1d3d4", "clip": true},
          "encoding": {"x": {"field": "h", "type": "quantitative", "scale": {"domain": [-0.07, 8.93], "nice": false}, "axis": {"title": "Dissipation ℎ", "values": [0, 2, 4, 6, 8], "labelPadding": 17, "titlePadding": 7}},
                       "y": {"field": "A", "type": "quantitative", "scale": {"domain": [0, 0.6931], "nice": false}, "axis": {"title": null, "labels": false, "values": [0, 0.2, 0.4, 0.6]}},
                       "y2": {"datum": 0.6931}}},
         {"data": {"values": [{}]}, "mark": {"type": "text", "text": ["Forbidden", "Region"], "angle": 306, "fontSize": 15, "color": "#58595b", "lineHeight": 17, "align": "center", "baseline": "middle"},
          "encoding": {"x": {"datum": 1.1}, "y": {"datum": 0.52}}},
         {"data": {"values": [{}]}, "mark": {"type": "rule", "color": "#8a8c8e", "strokeDash": [1.5, 2.5], "strokeWidth": 1},
          "encoding": {"x": {"datum": 6}, "y": {"datum": 0}, "y2": {"datum": 0.69}}},
         {"data": {"name": "theory"}, "transform": [{"filter": "datum.h >= 6"}], "mark": {"type": "line", "color": "#6d6e71", "strokeWidth": 1.6, "strokeDash": [9, 4, 2, 4], "clip": true},
          "encoding": {"x": {"field": "h", "type": "quantitative"}, "y": {"field": "A", "type": "quantitative"}}},
         {"data": {"name": "asym"}, "transform": [{"filter": "datum.k == 12"}], "mark": {"type": "line", "strokeWidth": 3.5, "strokeCap": "round", "strokeJoin": "round"},
          "encoding": {"x": {"field": "h", "type": "quantitative"}, "y": {"field": "A", "type": "quantitative"},
                       "color": {"field": "dE", "type": "nominal", "scale": {"domain": ["4", "1", "0"], "range": ["#0f4a70", "#16a09c", "#80d3a4"]}, "legend": null}}}
       ]},
      {"width": 319, "height": 168,
       "title": {"text": "Stiff spring", "subtitle": "𝑘 = 16", "offset": 5, "subtitlePadding": 8.5, "dx": 17},
       "layer": [
         {"data": {"name": "bound"}, "mark": {"type": "area", "color": "#d1d3d4", "clip": true},
          "encoding": {"x": {"field": "h", "type": "quantitative", "scale": {"domain": [-0.07, 8.93], "nice": false}, "axis": {"title": "Dissipation ℎ", "values": [0, 2, 4, 6, 8], "labelPadding": 17, "titlePadding": 7}},
                       "y": {"field": "A", "type": "quantitative", "scale": {"domain": [0, 0.6931], "nice": false}, "axis": {"title": null, "labels": false, "values": [0, 0.2, 0.4, 0.6]}},
                       "y2": {"datum": 0.6931}}},
         {"data": {"values": [{}]}, "mark": {"type": "text", "text": ["Forbidden", "Region"], "angle": 306, "fontSize": 15, "color": "#58595b", "lineHeight": 17, "align": "center", "baseline": "middle"},
          "encoding": {"x": {"datum": 1.1}, "y": {"datum": 0.52}}},
         {"data": {"values": [{}]}, "mark": {"type": "rule", "color": "#8a8c8e", "strokeDash": [1.5, 2.5], "strokeWidth": 1},
          "encoding": {"x": {"datum": 8}, "y": {"datum": 0}, "y2": {"datum": 0.69}}},
         {"data": {"name": "theory"}, "transform": [{"filter": "datum.h >= 8"}], "mark": {"type": "line", "color": "#6d6e71", "strokeWidth": 1.6, "strokeDash": [9, 4, 2, 4], "clip": true},
          "encoding": {"x": {"field": "h", "type": "quantitative"}, "y": {"field": "A", "type": "quantitative"}}},
         {"data": {"name": "asym"}, "transform": [{"filter": "datum.k == 16"}], "mark": {"type": "line", "strokeWidth": 3.5, "strokeCap": "round", "strokeJoin": "round"},
          "encoding": {"x": {"field": "h", "type": "quantitative"}, "y": {"field": "A", "type": "quantitative"},
                       "color": {"field": "dE", "type": "nominal", "scale": {"domain": ["4", "1", "0"], "range": ["#0f4a70", "#16a09c", "#80d3a4"]}, "legend": null}}}
       ]}
    ]
  },
  {
    "spacing": 34,
    "vconcat": [
      {
        "title": {"text": "b)", "anchor": "start", "frame": "bounds", "fontSize": 28, "fontWeight": 600, "dx": 44, "dy": 21, "offset": 0},
        "bounds": "flush", "spacing": 19,
        "hconcat": [
          {"width": 319, "height": 168,
           "title": {"text": "Slow", "subtitle": "𝑢 = 7.81 × 10⁻²", "offset": -7, "subtitlePadding": 11.5},
           "layer": [
             {"data": {"name": "work"}, "transform": [{"filter": "datum.p == 'b1' && datum.s == 'F'"}], "mark": {"type": "line", "color": "#263a50", "strokeWidth": 2.6, "clip": true},
              "encoding": {"x": {"field": "W", "type": "quantitative", "scale": {"domain": [-10, 10], "nice": false}, "axis": {"title": "Work", "values": [-10, -5, 0, 5, 10]}},
                           "y": {"field": "P", "type": "quantitative", "scale": {"domain": [0, 0.2], "nice": false}, "axis": {"title": "Probability", "values": [0, 0.1, 0.2]}}}},
             {"data": {"name": "work"}, "transform": [{"filter": "datum.p == 'b1' && datum.s == 'R'"}], "mark": {"type": "line", "color": "#ff0a7d", "strokeWidth": 3.2, "strokeDash": [0.5, 6.5], "strokeCap": "round", "clip": true},
              "encoding": {"x": {"field": "W", "type": "quantitative"}, "y": {"field": "P", "type": "quantitative"}}},
             {"data": {"values": [{}]}, "mark": {"type": "text", "text": "P", "font": "Liberation Serif", "fontStyle": "italic", "fontSize": 23, "color": "#f0197d", "align": "left", "baseline": "middle"}, "encoding": {"x": {"datum": -8.5}, "y": {"datum": 0.076}}},
             {"data": {"values": [{}]}, "mark": {"type": "text", "text": "Λ̃", "font": "Liberation Serif", "fontSize": 14, "color": "#f0197d", "align": "left", "baseline": "middle"}, "encoding": {"x": {"datum": -7.5}, "y": {"datum": 0.066}}},
             {"data": {"values": [{}]}, "mark": {"type": "text", "text": "(−W)", "font": "Liberation Serif", "fontStyle": "italic", "fontSize": 23, "color": "#f0197d", "align": "left", "baseline": "middle"}, "encoding": {"x": {"datum": -6.85}, "y": {"datum": 0.076}}},
             {"data": {"values": [{}]}, "mark": {"type": "text", "text": "P", "font": "Liberation Serif", "fontStyle": "italic", "fontSize": 23, "color": "#3d4f63", "align": "left", "baseline": "middle"}, "encoding": {"x": {"datum": 3.0}, "y": {"datum": 0.076}}},
             {"data": {"values": [{}]}, "mark": {"type": "text", "text": "Λ", "font": "Liberation Serif", "fontSize": 14, "color": "#3d4f63", "align": "left", "baseline": "middle"}, "encoding": {"x": {"datum": 3.85}, "y": {"datum": 0.068}}},
             {"data": {"values": [{}]}, "mark": {"type": "text", "text": "(W)", "font": "Liberation Serif", "fontStyle": "italic", "fontSize": 23, "color": "#3d4f63", "align": "left", "baseline": "middle"}, "encoding": {"x": {"datum": 4.45}, "y": {"datum": 0.076}}}
           ]},
          {"width": 319, "height": 168,
           "title": {"text": " ", "subtitle": "𝑢 = 0.625", "offset": 0, "subtitlePadding": 11.5},
           "layer": [
             {"data": {"name": "work"}, "transform": [{"filter": "datum.p == 'b2' && datum.s == 'F'"}], "mark": {"type": "line", "color": "#263a50", "strokeWidth": 2.6, "clip": true},
              "encoding": {"x": {"field": "W", "type": "quantitative", "scale": {"domain": [-10, 10], "nice": false}, "axis": {"title": "Work", "values": [-10, -5, 0, 5, 10], "labelExpr": "datum.value == -10 ? '' : datum.label"}},
                           "y": {"field": "P", "type": "quantitative", "scale": {"domain": [0, 0.2], "nice": false}, "axis": null}}},
             {"data": {"name": "work"}, "transform": [{"filter": "datum.p == 'b2' && datum.s == 'R'"}], "mark": {"type": "line", "color": "#ff0a7d", "strokeWidth": 3.2, "strokeDash": [0.5, 6.5], "strokeCap": "round", "clip": true},
              "encoding": {"x": {"field": "W", "type": "quantitative"}, "y": {"field": "P", "type": "quantitative"}}}
           ]},
          {"width": 319, "height": 168,
           "title": {"text": " ", "subtitle": "𝑢 = 5", "offset": 0, "subtitlePadding": 11.5},
           "layer": [
             {"data": {"name": "work"}, "transform": [{"filter": "datum.p == 'b3' && datum.s == 'F'"}], "mark": {"type": "line", "color": "#263a50", "strokeWidth": 2.6, "clip": true},
              "encoding": {"x": {"field": "W", "type": "quantitative", "scale": {"domain": [-10, 10], "nice": false}, "axis": {"title": "Work", "values": [-10, -5, 0, 5, 10], "labelExpr": "datum.value == -10 ? '' : datum.label"}},
                           "y": {"field": "P", "type": "quantitative", "scale": {"domain": [0, 0.2], "nice": false}, "axis": null}}},
             {"data": {"name": "work"}, "transform": [{"filter": "datum.p == 'b3' && datum.s == 'R'"}], "mark": {"type": "line", "color": "#ff0a7d", "strokeWidth": 3.2, "strokeDash": [0.5, 6.5], "strokeCap": "round", "clip": true},
              "encoding": {"x": {"field": "W", "type": "quantitative"}, "y": {"field": "P", "type": "quantitative"}}}
           ]},
          {"width": 319, "height": 168,
           "title": {"text": "Fast", "subtitle": "𝑢 = 2 × 10⁴", "offset": 0, "subtitlePadding": 11.5},
           "layer": [
             {"data": {"name": "work"}, "transform": [{"filter": "datum.p == 'b4' && datum.s == 'F'"}], "mark": {"type": "line", "color": "#263a50", "strokeWidth": 2.6, "clip": true},
              "encoding": {"x": {"field": "W", "type": "quantitative", "scale": {"domain": [-10, 10], "nice": false}, "axis": {"title": "Work", "values": [-10, -5, 0, 5, 10], "labelExpr": "datum.value == -10 ? '' : datum.label"}},
                           "y": {"field": "P", "type": "quantitative", "scale": {"domain": [0, 0.2], "nice": false}, "axis": null}}},
             {"data": {"name": "work"}, "transform": [{"filter": "datum.p == 'b4' && datum.s == 'R'"}], "mark": {"type": "line", "color": "#ff0a7d", "strokeWidth": 3.2, "strokeDash": [0.5, 6.5], "strokeCap": "round", "clip": true},
              "encoding": {"x": {"field": "W", "type": "quantitative"}, "y": {"field": "P", "type": "quantitative"}}}
           ]}
        ]
      },
      {
        "title": {"text": "c)", "anchor": "start", "frame": "bounds", "fontSize": 28, "fontWeight": 600, "dx": 44, "dy": 25, "offset": 0},
        "bounds": "flush", "spacing": 19,
        "hconcat": [
          {"width": 319, "height": 168,
           "title": {"text": "Low barrier", "subtitle": "Δ𝐸ᵣ = 0", "offset": -7, "subtitlePadding": 11.5},
           "layer": [
             {"data": {"name": "work"}, "transform": [{"filter": "datum.p == 'c1' && datum.s == 'F'"}], "mark": {"type": "line", "color": "#263a50", "strokeWidth": 2.6, "clip": true},
              "encoding": {"x": {"field": "W", "type": "quantitative", "scale": {"domain": [-10, 10], "nice": false}, "axis": {"title": "Work", "values": [-10, -5, 0, 5, 10]}},
                           "y": {"field": "P", "type": "quantitative", "scale": {"domain": [0, 0.2], "nice": false}, "axis": {"title": "Probability", "values": [0, 0.1, 0.2]}}}},
             {"data": {"name": "work"}, "transform": [{"filter": "datum.p == 'c1' && datum.s == 'R'"}], "mark": {"type": "line", "color": "#ff0a7d", "strokeWidth": 3.2, "strokeDash": [0.5, 6.5], "strokeCap": "round", "clip": true},
              "encoding": {"x": {"field": "W", "type": "quantitative"}, "y": {"field": "P", "type": "quantitative"}}},
             {"data": {"values": [{}]}, "mark": {"type": "text", "text": "P", "font": "Liberation Serif", "fontStyle": "italic", "fontSize": 23, "color": "#f0197d", "align": "left", "baseline": "middle"}, "encoding": {"x": {"datum": -8.5}, "y": {"datum": 0.07}}},
             {"data": {"values": [{}]}, "mark": {"type": "text", "text": "Λ̃", "font": "Liberation Serif", "fontSize": 14, "color": "#f0197d", "align": "left", "baseline": "middle"}, "encoding": {"x": {"datum": -7.5}, "y": {"datum": 0.06}}},
             {"data": {"values": [{}]}, "mark": {"type": "text", "text": "(−W)", "font": "Liberation Serif", "fontStyle": "italic", "fontSize": 23, "color": "#f0197d", "align": "left", "baseline": "middle"}, "encoding": {"x": {"datum": -6.85}, "y": {"datum": 0.07}}},
             {"data": {"values": [{}]}, "mark": {"type": "text", "text": "P", "font": "Liberation Serif", "fontStyle": "italic", "fontSize": 23, "color": "#3d4f63", "align": "left", "baseline": "middle"}, "encoding": {"x": {"datum": 4.8}, "y": {"datum": 0.07}}},
             {"data": {"values": [{}]}, "mark": {"type": "text", "text": "Λ", "font": "Liberation Serif", "fontSize": 14, "color": "#3d4f63", "align": "left", "baseline": "middle"}, "encoding": {"x": {"datum": 5.65}, "y": {"datum": 0.062}}},
             {"data": {"values": [{}]}, "mark": {"type": "text", "text": "(W)", "font": "Liberation Serif", "fontStyle": "italic", "fontSize": 23, "color": "#3d4f63", "align": "left", "baseline": "middle"}, "encoding": {"x": {"datum": 6.25}, "y": {"datum": 0.07}}}
           ]},
          {"width": 319, "height": 168,
           "title": {"text": " ", "subtitle": "Δ𝐸ᵣ = 1", "offset": 0, "subtitlePadding": 11.5},
           "layer": [
             {"data": {"name": "work"}, "transform": [{"filter": "datum.p == 'c2' && datum.s == 'F'"}], "mark": {"type": "line", "color": "#263a50", "strokeWidth": 2.6, "clip": true},
              "encoding": {"x": {"field": "W", "type": "quantitative", "scale": {"domain": [-10, 10], "nice": false}, "axis": {"title": "Work", "values": [-10, -5, 0, 5, 10], "labelExpr": "datum.value == -10 ? '' : datum.label"}},
                           "y": {"field": "P", "type": "quantitative", "scale": {"domain": [0, 0.2], "nice": false}, "axis": null}}},
             {"data": {"name": "work"}, "transform": [{"filter": "datum.p == 'c2' && datum.s == 'R'"}], "mark": {"type": "line", "color": "#ff0a7d", "strokeWidth": 3.2, "strokeDash": [0.5, 6.5], "strokeCap": "round", "clip": true},
              "encoding": {"x": {"field": "W", "type": "quantitative"}, "y": {"field": "P", "type": "quantitative"}}}
           ]},
          {"width": 319, "height": 168,
           "title": {"text": " ", "subtitle": "Δ𝐸ᵣ = 8", "offset": 0, "subtitlePadding": 11.5},
           "layer": [
             {"data": {"name": "work"}, "transform": [{"filter": "datum.p == 'c3' && datum.s == 'F'"}], "mark": {"type": "line", "color": "#263a50", "strokeWidth": 2.6, "clip": true},
              "encoding": {"x": {"field": "W", "type": "quantitative", "scale": {"domain": [-10, 10], "nice": false}, "axis": {"title": "Work", "values": [-10, -5, 0, 5, 10], "labelExpr": "datum.value == -10 ? '' : datum.label"}},
                           "y": {"field": "P", "type": "quantitative", "scale": {"domain": [0, 0.2], "nice": false}, "axis": null}}},
             {"data": {"name": "work"}, "transform": [{"filter": "datum.p == 'c3' && datum.s == 'R'"}], "mark": {"type": "line", "color": "#ff0a7d", "strokeWidth": 3.2, "strokeDash": [0.5, 6.5], "strokeCap": "round", "clip": true},
              "encoding": {"x": {"field": "W", "type": "quantitative"}, "y": {"field": "P", "type": "quantitative"}}}
           ]},
          {"width": 319, "height": 168,
           "title": {"text": "High barrier", "subtitle": "Δ𝐸ᵣ = 16", "offset": 0, "subtitlePadding": 11.5},
           "layer": [
             {"data": {"name": "work"}, "transform": [{"filter": "datum.p == 'c4' && datum.s == 'F'"}], "mark": {"type": "line", "color": "#263a50", "strokeWidth": 2.6, "clip": true},
              "encoding": {"x": {"field": "W", "type": "quantitative", "scale": {"domain": [-10, 10], "nice": false}, "axis": {"title": "Work", "values": [-10, -5, 0, 5, 10], "labelExpr": "datum.value == -10 ? '' : datum.label"}},
                           "y": {"field": "P", "type": "quantitative", "scale": {"domain": [0, 0.2], "nice": false}, "axis": null}}},
             {"data": {"name": "work"}, "transform": [{"filter": "datum.p == 'c4' && datum.s == 'R'"}], "mark": {"type": "line", "color": "#ff0a7d", "strokeWidth": 3.2, "strokeDash": [0.5, 6.5], "strokeCap": "round", "clip": true},
              "encoding": {"x": {"field": "W", "type": "quantitative"}, "y": {"field": "P", "type": "quantitative"}}}
           ]}
        ]
      }
    ]
  }
]
}
